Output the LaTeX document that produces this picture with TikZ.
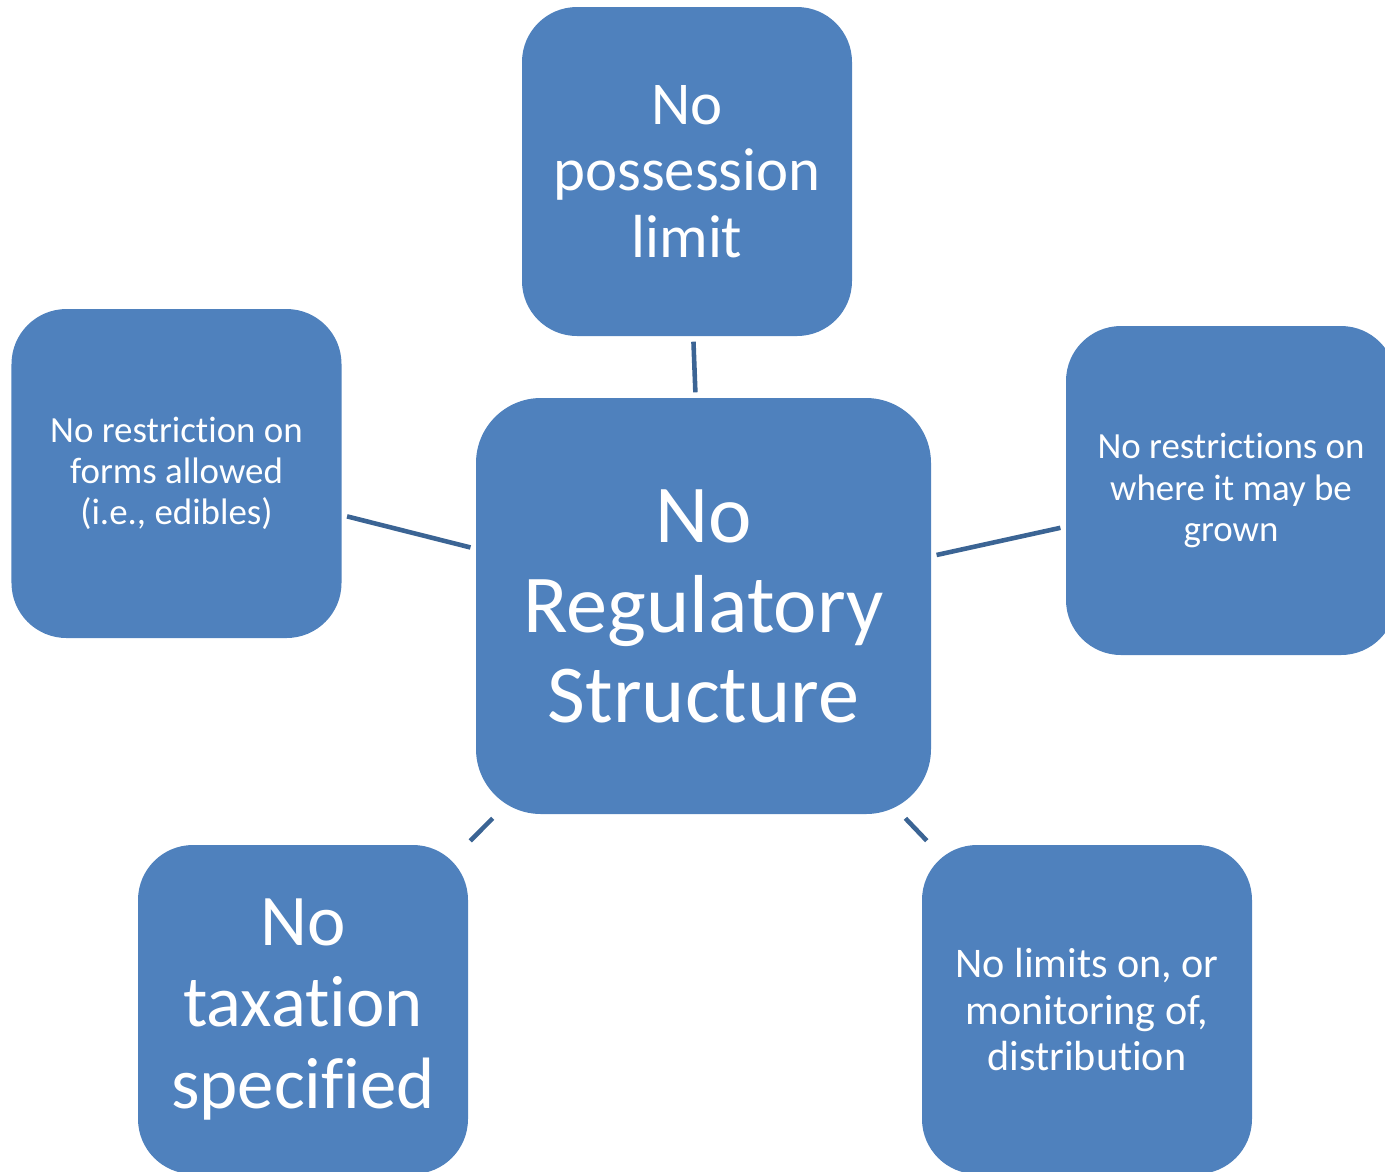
\documentclass[tikz,border=0pt]{standalone}
\usepackage{fontspec}
\setmainfont{Carlito}[Ligatures=NoCommon]
\definecolor{boxblue}{HTML}{4F81BD}
\definecolor{linkblue}{HTML}{3B6494}

\begin{document}
\begin{tikzpicture}[
  hubbox/.style={fill=boxblue,rounded corners=0.65cm,minimum width=4.55cm,minimum height=4.16cm,align=center,text=white,inner sep=2pt},
  spoke/.style={fill=boxblue,rounded corners=0.55cm,minimum width=3.3cm,minimum height=3.29cm,align=center,text=white,inner sep=2pt},
  link/.style={draw=linkblue,line width=1.3pt,shorten <=0.05cm,shorten >=0.05cm}]
\useasboundingbox (0,0) rectangle (13.85,-11.71);
\clip (0,0) rectangle (13.85,-11.71);
\node[hubbox,font=\fontsize{23.4}{25.6}\selectfont] (hub) at (7.035,-6.06) {No\\Regulatory\\Structure};
\node[spoke,font=\fontsize{17.3}{19}\selectfont] (sp0) at (6.87,-1.715) {No\\possession\\limit};
\draw[link] (hub)--(sp0);
\node[spoke,font=\fontsize{10.5}{11.7}\selectfont] (sp1) at (12.31,-4.905) {No restrictions on\\where it may be\\grown};
\draw[link] (hub)--(sp1);
\node[spoke,font=\fontsize{12}{13.2}\selectfont] (sp2) at (10.87,-10.095) {No limits on, or\\monitoring of,\\distribution};
\draw[link] (hub)--(sp2);
\node[spoke,font=\fontsize{20.7}{23.3}\selectfont] (sp3) at (3.03,-10.095) {No\\taxation\\specified};
\draw[link] (hub)--(sp3);
\node[spoke,font=\fontsize{10.5}{11.7}\selectfont] (sp4) at (1.765,-4.735) {No restriction on\\forms allowed\\(i.e., edibles)};
\draw[link] (hub)--(sp4);
\end{tikzpicture}
\end{document}
